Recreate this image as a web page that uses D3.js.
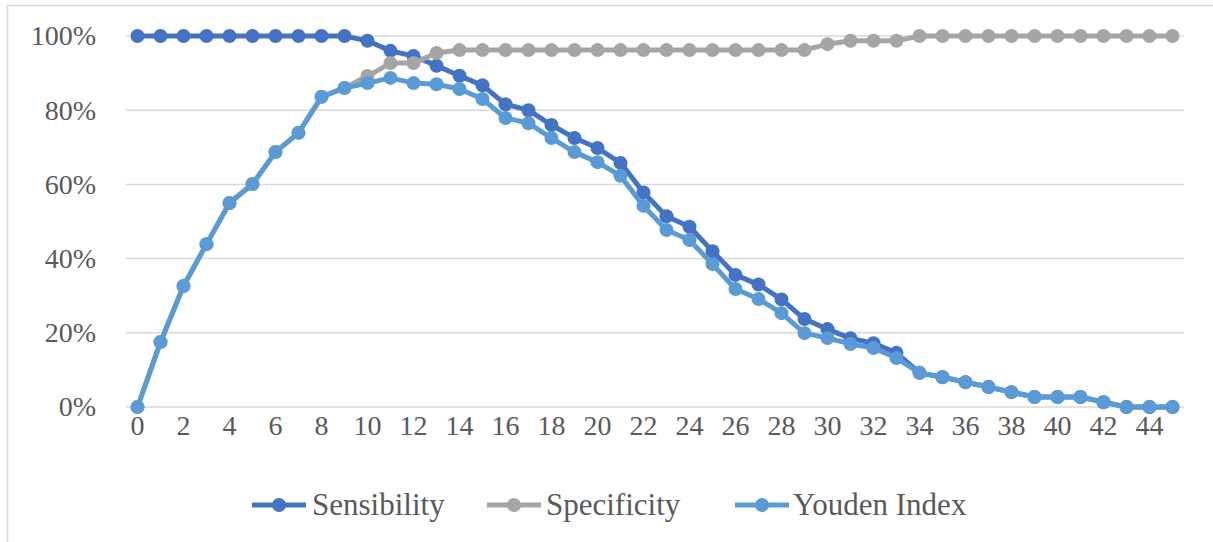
<!DOCTYPE html>
<html><head><meta charset="utf-8">
<script src="https://cdn.jsdelivr.net/npm/d3@7"></script>
<style>body{margin:0;background:#fff;}svg{display:block;} text{font-family:"Liberation Serif","Times New Roman",serif;}</style>
</head><body>
<svg id="c" width="1213" height="542"></svg>
<script>
const categories = d3.range(0, 46);
const sensibility = [100,100,100,100,100,100,100,100,100,100,98.7,96,94.6,92,89.3,86.7,81.6,80,76,72.5,69.8,65.8,57.8,51.4,48.6,42,35.6,33,29,23.7,21,18.5,17.2,14.6,9.2,8,6.7,5.4,4,2.7,2.7,2.7,1.3,0,0,0];
const specificity = [0,17.5,32.6,43.9,55,60.1,68.7,73.9,83.6,86,89.2,92.7,92.7,95.4,96.2,96.2,96.2,96.2,96.2,96.2,96.2,96.2,96.2,96.2,96.2,96.2,96.2,96.2,96.2,96.2,97.8,98.7,98.7,98.7,100,100,100,100,100,100,100,100,100,100,100,100];
const youden = [0,17.5,32.6,43.9,55,60.1,68.7,73.9,83.6,86,87.3,88.7,87.3,87,85.7,83,77.9,76.5,72.5,68.7,66,62.3,54.2,47.7,45,38.5,31.8,29.1,25.3,19.9,18.6,17,15.9,13.2,9.2,8.1,6.7,5.4,4,2.7,2.7,2.7,1.3,0,0,0];
const yTicks = [0,20,40,60,80,100];
const seriesNames = ["Sensibility","Specificity","Youden Index"];
const seriesColors = ["#4472C4","#A5A5A5","#5B9BD5"];

const series = [sensibility, specificity, youden];
const svg = d3.select("#c");
const font = '"Liberation Serif","Times New Roman",serif';

// outer border
svg.append("rect").attr("x",7.5).attr("y",5.5).attr("width",1230).attr("height",545)
  .attr("fill","none").attr("stroke","#D9D9D9").attr("stroke-width",1.5);

const x = d3.scaleBand().domain(categories).range([126,1184]);
const y = d3.scaleLinear().domain([0,100]).range([407,36]);
const cx = d => x(d) + x.bandwidth()/2;

// gridlines
svg.append("g").selectAll("line").data(yTicks).join("line")
  .attr("x1",126).attr("x2",1184).attr("y1",d=>y(d)).attr("y2",d=>y(d))
  .attr("stroke","#D9D9D9").attr("stroke-width",1.5);

// y axis labels
const yAxis = d3.axisLeft(y).tickValues(yTicks).tickFormat(d=>d+"%").tickSize(0).tickPadding(0);
const ya = svg.append("g").attr("transform","translate(96,0)").call(yAxis);
ya.select(".domain").remove();
ya.selectAll("text").style("font-family",font).style("font-size","28px").attr("fill","#595959");

// x axis labels
const xAxis = d3.axisBottom(x).tickValues(categories.filter(d=>d%2===0)).tickSize(0).tickPadding(0);
const xa = svg.append("g").attr("transform","translate(0,415)").call(xAxis);
xa.select(".domain").remove();
xa.selectAll("text").style("font-family",font).style("font-size","28px").attr("fill","#595959");

// series
const line = d3.line().x((d,i)=>cx(categories[i])).y(d=>y(d));
series.forEach((s,k)=>{
  const g = svg.append("g");
  g.append("path").datum(s).attr("d",line).attr("fill","none")
    .attr("stroke",seriesColors[k]).attr("stroke-width",5).attr("stroke-linejoin","round");
  g.selectAll("circle").data(s).join("circle")
    .attr("cx",(d,i)=>cx(categories[i])).attr("cy",d=>y(d)).attr("r",7)
    .attr("fill",seriesColors[k]);
});

// legend
const legendX = [252, 487, 735];
const textX = [312, 546, 793];
const lg = svg.append("g");
seriesNames.forEach((n,k)=>{
  lg.append("line").attr("x1",legendX[k]).attr("x2",legendX[k]+54).attr("y1",505).attr("y2",505)
    .attr("stroke",seriesColors[k]).attr("stroke-width",5);
  lg.append("circle").attr("cx",legendX[k]+27).attr("cy",505).attr("r",7).attr("fill",seriesColors[k]);
  lg.append("text").attr("x",textX[k]).attr("y",515).text(n)
    .style("font-family",font).style("font-size","31px").attr("fill","#595959");
});
</script>
</body></html>
